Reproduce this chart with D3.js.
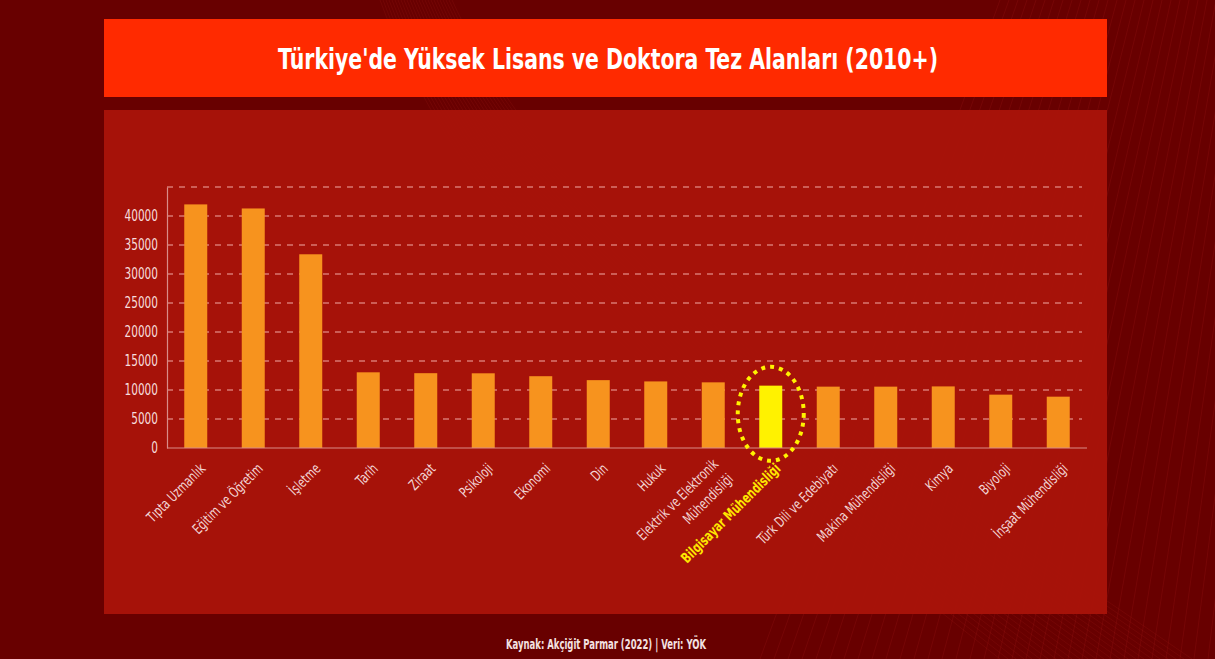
<!DOCTYPE html>
<html>
<head>
<meta charset="utf-8">
<script src="https://cdn.jsdelivr.net/npm/d3@7"></script>
<style>
  html, body { margin: 0; padding: 0; background: #680000; }
  svg { display: block; font-family: 'DejaVu Sans Condensed', 'DejaVu Sans', sans-serif; font-stretch: condensed; }
</style>
</head>
<body>
<div id="chart"></div>
<script>
// categories and counts (thesis count since 2010)
const categories = ["Tıpta Uzmanlık", "Eğitim ve Öğretim", "İşletme", "Tarih", "Ziraat", "Psikoloji",
  "Ekonomi", "Din", "Hukuk", "Elektrik ve Elektronik|Mühendisliği", "Bilgisayar Mühendisliği",
  "Türk Dili ve Edebiyatı", "Makina Mühendisliği", "Kimya", "Biyoloji", "İnşaat Mühendisliği"]
const counts = [42000, 41300, 33400, 13050, 12900, 12880, 12380, 11700, 11480, 11320, 10750,
  10580, 10580, 10620, 9200, 8850]
const yTicks = [0, 5000, 10000, 15000, 20000, 25000, 30000, 35000, 40000]
const highlight = "Bilgisayar Mühendisliği"

const width = 1215
const height = 659
const plot = {left: 167, right: 1087, top: 187, bottom: 448}

// the picture uses a narrow face, squeeze the glyphs to get close
const condense = (sel, k) => {
  sel.each(function() {
    const len = this.getComputedTextLength()
    d3.select(this).attr('textLength', len * k).attr('lengthAdjust', 'spacingAndGlyphs')
  })
}

const svg = d3.select('#chart').append('svg')
  .attr('width', width)
  .attr('height', height)

// background
svg.append('rect').attr('width', width).attr('height', height).attr('fill', '#680000')

const deco = svg.append('g').attr('fill', 'none')
// fan of thin lines, upper right
d3.range(0, 40).forEach(i => {
  deco.append('line')
    .attr('x1', 1000 + i * 9).attr('y1', 0)
    .attr('x2', 760 + i * 14).attr('y2', 659)
    .attr('stroke', '#ff3b3b').attr('stroke-opacity', 0.12).attr('stroke-width', 0.8)
})
d3.range(0, 25).forEach(i => {
  deco.append('path')
    .attr('d', `M ${380 + i * 3} 0 C ${470 + i * 4} 250, ${700 + i * 6} 420, ${1000 + i * 8} 659`)
    .attr('stroke', '#ff4a3a').attr('stroke-opacity', 0.1).attr('stroke-width', 0.8)
})

// title box
svg.append('rect')
  .attr('x', 104).attr('y', 19).attr('width', 1003).attr('height', 78)
  .attr('fill', '#ff2a00')
const title = svg.append('text')
  .attr('x', 608).attr('y', 69)
  .attr('text-anchor', 'middle')
  .attr('fill', '#ffffff')
  .style('font-size', '29px')
  .style('font-weight', 'bold')
  .text("Türkiye'de Yüksek Lisans ve Doktora Tez Alanları (2010+)")
title.attr('textLength', 660).attr('lengthAdjust', 'spacingAndGlyphs')

// chart panel
svg.append('rect')
  .attr('x', 104).attr('y', 110).attr('width', 1003).attr('height', 504)
  .attr('fill', '#aa130a').attr('fill-opacity', 0.94)

const xScale = d3.scaleBand()
  .domain(categories)
  .range([plot.left, plot.right])
  .paddingInner(0.6)
  .paddingOuter(0.3)

const yScale = d3.scaleLinear()
  .domain([0, 45000])
  .range([plot.bottom, plot.top])

// grid
svg.append('g')
  .selectAll('line')
  .data(yTicks.slice(1).concat([45000]))
  .join('line')
    .attr('x1', plot.left).attr('x2', 1082)
    .attr('y1', d => yScale(d)).attr('y2', d => yScale(d))
    .attr('stroke', '#f2a9a5').attr('stroke-width', 1.2)
    .attr('stroke-dasharray', '6 6')

// y axis
const yAxis = svg.append('g')
  .attr('transform', `translate(${plot.left},0)`)
  .call(d3.axisLeft(yScale).tickValues(yTicks).tickSize(0).tickPadding(9).tickFormat(d3.format('d')))
yAxis.select('.domain').attr('stroke', '#d98c88').attr('stroke-width', 1.2)
yAxis.selectAll('text')
  .attr('fill', '#f6dcdc')
  .style('font-size', '15px')
  .style('font-family', "'DejaVu Sans Condensed', 'DejaVu Sans', sans-serif")
condense(yAxis.selectAll('text'), 0.78)

// bars
svg.append('g')
  .selectAll('rect')
  .data(categories)
  .join('rect')
    .attr('x', d => xScale(d))
    .attr('y', (d, i) => yScale(counts[i]))
    .attr('width', xScale.bandwidth())
    .attr('height', (d, i) => plot.bottom - yScale(counts[i]))
    .attr('fill', d => d === highlight ? '#fff200' : '#f7931e')

// x axis line
svg.append('line')
  .attr('x1', plot.left).attr('x2', plot.right)
  .attr('y1', plot.bottom).attr('y2', plot.bottom)
  .attr('stroke', '#d98c88').attr('stroke-width', 1.2)

// x labels, rotated
const xl = svg.append('g')
  .selectAll('text')
  .data(categories)
  .join('text')
    .attr('transform', d => `translate(${xScale(d) + xScale.bandwidth() / 2 + 7},${plot.bottom + 18}) rotate(-45)`)
    .attr('text-anchor', 'end')
    .attr('fill', d => d === highlight ? '#ffe600' : '#f3d6d6')
    .style('font-size', '14.5px')
    .style('font-weight', d => d === highlight ? 'bold' : 'normal')

xl.each(function(d) {
  const lines = d.split('|')
  const t = d3.select(this)
  lines.forEach((line, j) => {
    t.append('tspan')
      .attr('x', 0)
      .attr('dy', j === 0 ? (lines.length > 1 ? '-0.1em' : '0.35em') : '1.45em')
      .text(line)
  })
})
condense(xl.selectAll('tspan'), 0.78)

// dotted ring round the highlighted bar
const hi = categories.indexOf(highlight)
svg.append('ellipse')
  .attr('cx', xScale(highlight) + xScale.bandwidth() / 2)
  .attr('cy', yScale(counts[hi] / 2) - 3)
  .attr('rx', 33)
  .attr('ry', 47)
  .attr('fill', 'none')
  .attr('stroke', '#fff200')
  .attr('stroke-width', 4)
  .attr('stroke-dasharray', '4 5')

// source
const src = svg.append('text')
  .attr('x', 606).attr('y', 649)
  .attr('text-anchor', 'middle')
  .attr('fill', '#f4e2e2')
  .style('font-size', '14px')
  .style('font-weight', 'bold')
  .text('Kaynak: Akçiğit Parmar (2022)  | Veri: YÖK')
src.attr('textLength', 200).attr('lengthAdjust', 'spacingAndGlyphs')
</script>
</body>
</html>
